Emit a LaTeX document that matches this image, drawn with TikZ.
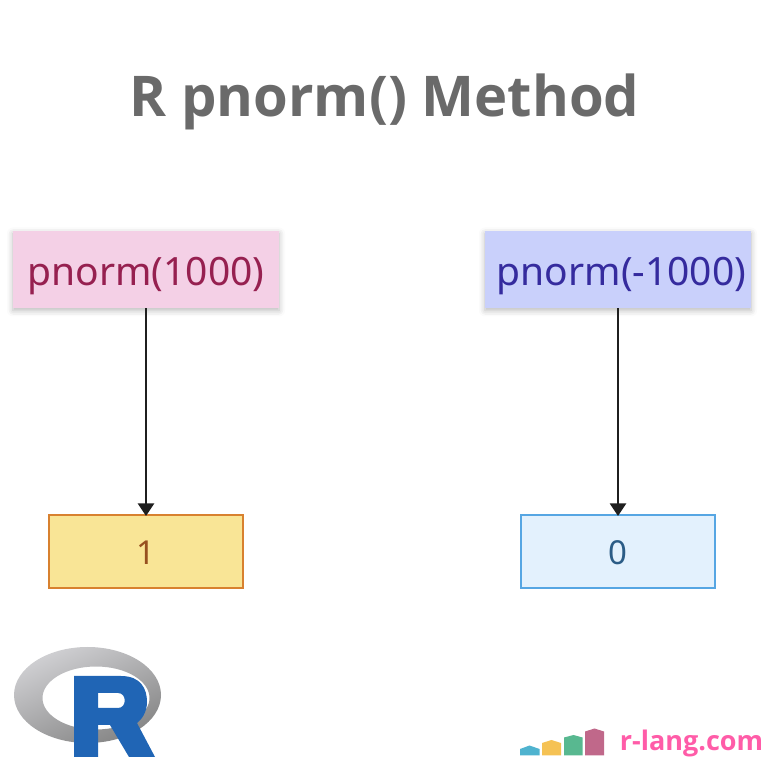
\documentclass[tikz,border=0pt]{standalone}
\usepackage{xcolor}
\usepackage{fontspec}
\usepackage{tikz}
\usetikzlibrary{arrows.meta,shadows.blur}
\setmainfont{Noto Sans}
\newfontfamily\titlefont{Open Sans}
\newfontfamily\brandfont{Open Sans}
\definecolor{titlecolor}{HTML}{6A6A6A}
\definecolor{pinkfill}{HTML}{F4D0E6}
\definecolor{pinktext}{HTML}{962050}
\definecolor{bluefill}{HTML}{C9D0FB}
\definecolor{bluetext}{HTML}{352B9E}
\definecolor{yellowfill}{HTML}{F9E596}
\definecolor{yellowline}{HTML}{D8812F}
\definecolor{yellowtext}{HTML}{97501F}
\definecolor{skyfill}{HTML}{E3F1FD}
\definecolor{skyline}{HTML}{56A6E3}
\definecolor{skytext}{HTML}{2B5C86}
\definecolor{rblue}{HTML}{2065B5}
\definecolor{ringlight}{HTML}{D0D0D3}
\definecolor{ringdark}{HTML}{858585}
\definecolor{brandpink}{HTML}{FF5CA8}
\definecolor{barone}{HTML}{4FB3CF}
\definecolor{bartwo}{HTML}{F5C254}
\definecolor{barthree}{HTML}{58B890}
\definecolor{barfour}{HTML}{C0688A}
\tikzset{
  callbox/.style={rectangle, minimum width=5.32cm, minimum height=1.54cm, inner sep=0pt,
    text height=0.66cm, text depth=0cm, font=\fontsize{0.78cm}{0.94cm}\selectfont,
    blur shadow={shadow xshift=0pt, shadow yshift=-0.05cm, shadow blur radius=0.12cm, shadow opacity=28}},
  resultbox/.style={draw, rectangle, line width=0.04cm, minimum width=3.88cm, minimum height=1.46cm,
    inner sep=0pt, text height=0.54cm, text depth=0cm, font=\fontsize{0.66cm}{0.79cm}\selectfont},
  callarrow/.style={draw=black!88, line width=0.04cm, shorten >=-0.04cm, -{Triangle[length=0.25cm, width=0.32cm]}}
}
\begin{document}
\begin{tikzpicture}%
\useasboundingbox (0,0) rectangle (15.36,15.36);%
\node[text=titlecolor, font=\titlefont\bfseries\fontsize{1.123cm}{1.35cm}\selectfont] (title) at (7.69, 13.33) {R pnorm() Method};%
\node[callbox, fill=pinkfill, text=pinktext] (callpos) at (2.92, 9.97) {pnorm(1000)};%
\node[callbox, fill=bluefill, text=bluetext] (callneg) at (12.36, 9.97) {\hspace{0.14cm}pnorm(-1000)};%
\node[resultbox, fill=yellowfill, draw=yellowline, text=yellowtext] (resultpos) at (2.92, 4.33) {1};%
\node[resultbox, fill=skyfill, draw=skyline, text=skytext] (resultneg) at (12.36, 4.33) {0};%
\draw[callarrow] (callpos) -- (resultpos);%
\draw[callarrow] (callneg) -- (resultneg);%
\shade[even odd rule, left color=ringlight, right color=ringdark, shading angle=25]
  (1.75, 1.46) ellipse [x radius=1.47, y radius=0.96]
  (1.92, 1.40) ellipse [x radius=1.07, y radius=0.63];%
\fill[rblue, even odd rule] (1.48, 0.22) -- (1.48, 1.84) -- (2.42, 1.84)
  .. controls (2.82, 1.84) and (2.94, 1.58) .. (2.94, 1.32)
  .. controls (2.94, 1.10) and (2.82, 0.96) .. (2.74, 0.90)
  -- (3.10, 0.22) -- (2.58, 0.22) -- (2.20, 0.86) -- (1.96, 0.86) -- (1.96, 0.22) -- cycle
  (1.96, 1.20) -- (1.96, 1.50) -- (2.36, 1.50)
  .. controls (2.54, 1.50) and (2.54, 1.20) .. (2.36, 1.20) -- cycle;%
\fill[barone] (10.40, 0.25) -- (10.40, 0.38) -- (10.59, 0.45) -- (10.79, 0.38) -- (10.79, 0.25) -- cycle;%
\fill[bartwo] (10.84, 0.25) -- (10.84, 0.50) -- (11.03, 0.56) -- (11.22, 0.50) -- (11.22, 0.25) -- cycle;%
\fill[barthree] (11.28, 0.25) -- (11.28, 0.61) -- (11.47, 0.66) -- (11.65, 0.61) -- (11.65, 0.25) -- cycle;%
\fill[barfour] (11.70, 0.25) -- (11.70, 0.73) -- (11.89, 0.79) -- (12.08, 0.73) -- (12.08, 0.25) -- cycle;%
\node[text=brandpink, font=\brandfont\bfseries\fontsize{0.54cm}{0.65cm}\selectfont, anchor=base west, inner sep=0pt] (brand) at (12.39, 0.34) {r-lang.com};%
\end{tikzpicture}
\end{document}
